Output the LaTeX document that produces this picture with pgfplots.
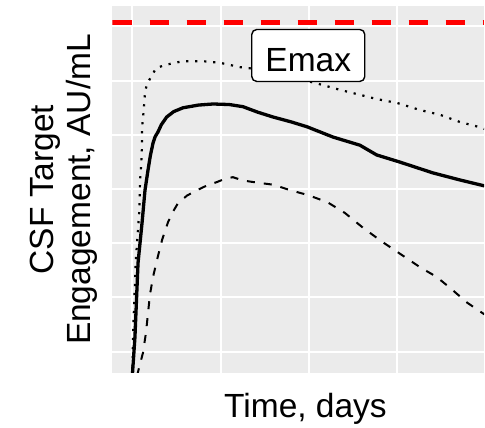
\documentclass[border=0pt]{standalone}
\usepackage{pgfplots}
\pgfplotsset{compat=1.18}
\usepackage{fontspec}
\setmainfont{Liberation Sans}
\definecolor{panelgrey}{HTML}{EBEBEB}
\begin{document}
\begin{tikzpicture}[x=1pt,y=1pt]
\useasboundingbox (0,0) rectangle (485,428);
\begin{axis}[
  at={(112.5pt,55pt)}, anchor=south west,
  scale only axis, width=371.5pt, height=367pt,
  xmin=-0.2245, xmax=3.987, ymin=-0.393, ymax=6.378,
  xtick={0,1,2,3}, ytick={0,1,2,3,4,5,6},
  xticklabels={}, yticklabels={},
  major tick length=0pt,
  axis line style={draw=none},
  axis background/.style={fill=panelgrey},
  grid=major,
  major grid style={white, line width=2pt},
  xlabel={Time, days},
  ylabel={CSF Target\\Engagement, AU/mL},
  label style={font=\fontsize{33.5}{37}\selectfont},
  xlabel style={at={(axis description cs:0.5195,-0.1226)}, anchor=base},
  ylabel style={at={(axis description cs:-0.13,0.5)}, anchor=center, rotate=0, align=center},
]
% dashed (lower)
\addplot[black, line width=2pt, dash pattern=on 8pt off 9pt] coordinates {
(0.053,-0.45) (0.087,-0.23) (0.121,-0.02) (0.155,0.35) (0.178,0.71) (0.2,1.05)
(0.235,1.38) (0.28,1.69) (0.337,2.06) (0.405,2.39) (0.46,2.58) (0.518,2.74) (0.62,2.88) (0.734,2.98)
(0.85,3.07) (0.96,3.13) (1.05,3.19) (1.14,3.22) (1.25,3.16) (1.37,3.13) (1.6,3.08) (1.79,2.98) (1.99,2.89)
(2.21,2.76) (2.41,2.56) (2.62,2.28) (2.84,2.02) (3.06,1.78) (3.26,1.56)
(3.45,1.38) (3.6,1.18) (3.8,0.90) (3.99,0.69)
};
% dotted (upper)
\addplot[black, line width=2.2pt, dash pattern=on 2.2pt off 6.8pt] coordinates {
(0,-0.45) (0.01,0.4) (0.04,1.69) (0.08,2.61) (0.087,3.13) (0.1,3.44) (0.11,3.78)
(0.11,4.13) (0.13,4.46) (0.144,4.79) (0.167,4.94) (0.223,5.1) (0.27,5.23)
(0.37,5.29) (0.575,5.36) (0.8,5.36) (0.994,5.33) (1.22,5.25) (1.33,5.23)
(1.67,5.12) (1.9,5.03) (2.16,4.92) (2.355,4.83) (2.58,4.74) (2.775,4.66)
(3.0,4.59) (3.26,4.46) (3.49,4.37) (3.71,4.24) (3.92,4.15) (3.99,4.11)
};
% solid (median)
\addplot[black, line width=3.3pt] coordinates {
(0.0,-0.45) (0.03,0.27) (0.065,1.64) (0.11,2.37) (0.144,2.98) (0.178,3.35)
(0.205,3.62) (0.235,3.85) (0.26,3.97) (0.29,4.05) (0.33,4.19) (0.39,4.33) (0.47,4.43) (0.575,4.50)
(0.75,4.55) (0.915,4.57) (1.1,4.56) (1.255,4.52)
(1.42,4.42) (1.595,4.33) (1.8,4.24) (1.98,4.15) (2.275,3.96) (2.58,3.81) (2.77,3.63) (3.03,3.50)
(3.405,3.30) (3.71,3.17) (3.99,3.06)
};
% Emax reference line
\addplot[red, line width=4.6pt, dash pattern=on 19pt off 18pt] coordinates {
(-0.2245,6.07) (3.987,6.07)
};
\node[draw=black, line width=1.4pt, fill=white, rounded corners=5pt,
      minimum width=113pt, minimum height=52pt, inner sep=0pt,
      text height=33pt, text depth=0pt,
      font=\fontsize{33.5}{37}\selectfont]
  at (axis cs:1.995,5.465) {Emax};
\end{axis}
\end{tikzpicture}
\end{document}
